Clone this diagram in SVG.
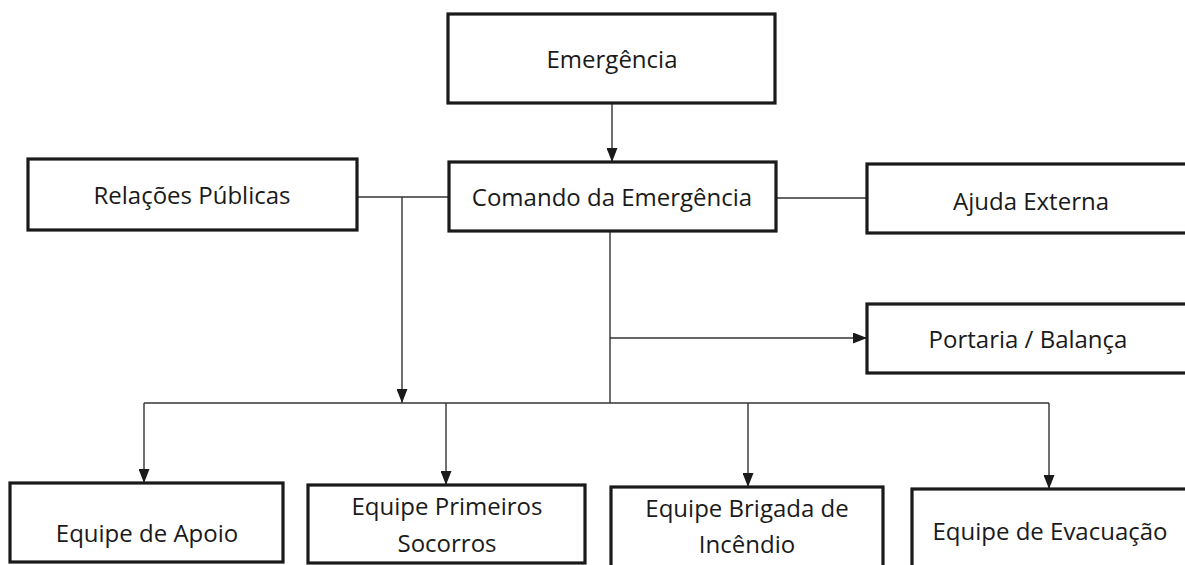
<svg xmlns="http://www.w3.org/2000/svg" width="1185" height="565" viewBox="0 0 1185 565">
<style>
.box{fill:#fff;stroke:#1a1a1a;stroke-width:3.2}
.lbl{font-family:"Open Sans","DejaVu Sans",sans-serif;font-size:24px;fill:#1a1a1a;text-anchor:middle}
.con{fill:none;stroke:#333;stroke-width:1.4}
</style>
<defs>
<marker id="ah" viewBox="0 0 14 11" refX="14" refY="5.5" markerWidth="14" markerHeight="11" markerUnits="userSpaceOnUse" orient="auto">
<path d="M0,0 L14,5.5 L0,11 Z" fill="#1a1a1a"/>
</marker>
</defs>
<rect width="1185" height="565" fill="#fff"/>
<g id="connectors">
<line class="con" x1="612" y1="103" x2="612" y2="162" marker-end="url(#ah)"/>
<line class="con" x1="357" y1="197" x2="449" y2="197"/>
<line class="con" x1="402" y1="197" x2="402" y2="403" marker-end="url(#ah)"/>
<line class="con" x1="776" y1="198" x2="867" y2="198"/>
<line class="con" x1="610" y1="231" x2="610" y2="403"/>
<line class="con" x1="610" y1="338" x2="867" y2="338" marker-end="url(#ah)"/>
<line class="con" x1="144" y1="403" x2="1049" y2="403"/>
<line class="con" x1="144" y1="403" x2="144" y2="483" marker-end="url(#ah)"/>
<line class="con" x1="446" y1="403" x2="446" y2="485" marker-end="url(#ah)"/>
<line class="con" x1="748" y1="403" x2="748" y2="487" marker-end="url(#ah)"/>
<line class="con" x1="1049" y1="403" x2="1049" y2="489" marker-end="url(#ah)"/>
</g>
<g id="emergencia">
<rect class="box" x="448" y="14" width="327" height="89"/>
<text class="lbl" x="612" y="68">Emergência</text>
</g>
<g id="comando">
<rect class="box" x="449" y="162" width="327" height="69"/>
<text class="lbl" x="612" y="206">Comando da Emergência</text>
</g>
<g id="relacoes">
<rect class="box" x="28" y="159" width="329" height="71"/>
<text class="lbl" x="192" y="204">Relações Públicas</text>
</g>
<g id="ajuda">
<rect class="box" x="867" y="164" width="330" height="69"/>
<text class="lbl" x="1031" y="210">Ajuda Externa</text>
</g>
<g id="portaria">
<rect class="box" x="867" y="304" width="330" height="69"/>
<text class="lbl" x="1028" y="348">Portaria / Balança</text>
</g>
<g id="apoio">
<rect class="box" x="10" y="483" width="273" height="79"/>
<text class="lbl" x="147" y="542">Equipe de Apoio</text>
</g>
<g id="primeiros">
<rect class="box" x="308" y="485" width="277" height="78"/>
<text class="lbl" x="447" y="515">Equipe Primeiros</text>
<text class="lbl" x="447" y="552">Socorros</text>
</g>
<g id="brigada">
<rect class="box" x="611" y="487" width="272" height="82"/>
<text class="lbl" x="747" y="517">Equipe Brigada de</text>
<text class="lbl" x="747" y="553">Incêndio</text>
</g>
<g id="evacuacao">
<rect class="box" x="912" y="489" width="285" height="82"/>
<text class="lbl" x="1050" y="540">Equipe de Evacuação</text>
</g>
</svg>
